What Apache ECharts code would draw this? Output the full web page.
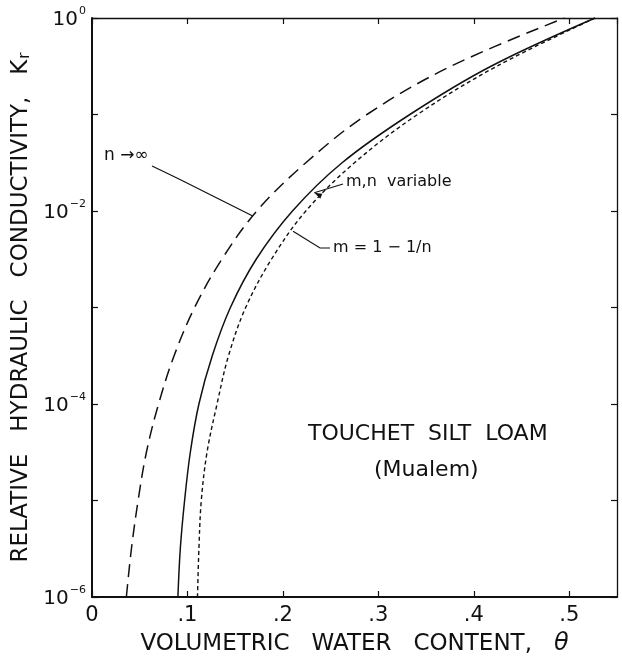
<!DOCTYPE html>
<html>
<head>
<meta charset="utf-8">
<script src="https://cdn.jsdelivr.net/npm/echarts@6/dist/echarts.min.js"></script>
<style>
html,body{margin:0;padding:0;background:#fff;}
#chart{width:622px;height:663px;}
</style>
</head>
<body>
<div id="chart"></div>
<script>
// ---- data (theta = volumetric water content, logKr = log10 of relative conductivity Kr) ----
const xTicks = [0, 0.1, 0.2, 0.3, 0.4, 0.5];
const yTickExponents = [-6, -4, -2, 0];
const logKr = [-6, -5.5, -5, -4.5, -4, -3.5, -3, -2.5, -2, -1.5, -1, -0.5, 0];

// n -> infinity (long dash)
const thetaInf = [0.036, 0.0413, 0.0483, 0.057, 0.0697, 0.086, 0.1075, 0.136, 0.1726, 0.224, 0.288, 0.376, 0.495];
// m, n variable (solid)
const thetaVar = [0.090, 0.0925, 0.097, 0.103, 0.112, 0.126, 0.145, 0.172, 0.210, 0.262, 0.333, 0.418, 0.527];
// m = 1 - 1/n (short dash)
const thetaMn  = [0.1105, 0.112, 0.1145, 0.1205, 0.131, 0.143, 0.161, 0.188, 0.224, 0.275, 0.341, 0.424, 0.527];

const FONT = 'DejaVu Sans';
const INK = '#111';

function pairs(xs, ys){ return xs.map((x,i)=>[x, ys[i]]); }
function interpTheta(xs, ys, ly){
  for (let i=0;i<ys.length-1;i++){
    if (ly>=ys[i] && ly<=ys[i+1]){ const t=(ly-ys[i])/(ys[i+1]-ys[i]); return xs[i]+t*(xs[i+1]-xs[i]); }
  }
  return xs[xs.length-1];
}

const chart = echarts.init(document.getElementById('chart'), null, {renderer:'canvas'});

const supRich = {
  b:{fontFamily:FONT, fontSize:20, color:INK, lineHeight:24, verticalAlign:'bottom'},
  s:{fontFamily:FONT, fontSize:11, color:INK, lineHeight:24, verticalAlign:'top', padding:[0,0,10,1]}
};

function axis(extra, width){
  return Object.assign({
    type:'value', splitLine:{show:false},
    axisLine:{show:true, onZero:false, lineStyle:{color:INK, width:width}},
    axisTick:{show:true, inside:true, length:6, lineStyle:{color:INK, width:1.2}}
  }, extra);
}

const option = {
  animation:false,
  backgroundColor:'#fff',
  grid:{left:92, right:5, top:18, bottom:66, containLabel:false},
  xAxis:[
    axis({
      position:'bottom', min:0, max:0.55, interval:0.1,
      axisLabel:{show:true, fontFamily:FONT, fontSize:21, color:INK, margin:8, showMaxLabel:false,
        formatter:(v)=>{ const k=xTicks.findIndex(t=>Math.abs(t-v)<1e-6); if(k<0) return ''; return v===0?'0':'.'+Math.round(v*10);} },
      name:'{t|VOLUMETRIC   WATER   CONTENT,   }{th|θ}', nameLocation:'middle', nameGap:35,
      nameTextStyle:{rich:{t:{fontFamily:FONT, fontSize:23, color:INK}, th:{fontFamily:FONT, fontSize:24, fontStyle:'italic', color:INK}}}
    }, 2),
    axis({position:'top', min:0, max:0.55, interval:0.1, axisLabel:{show:false}}, 1.3)
  ],
  yAxis:[
    axis({
      position:'left', min:-6, max:0, interval:1,
      axisLabel:{show:true, margin:6, rich:supRich,
        formatter:(v)=> yTickExponents.indexOf(Math.round(v))>=0 && Math.abs(v-Math.round(v))<1e-6 ? '{b|10}{s|'+(v===0?'0':String(v).replace('-','−'))+'}' : ''},
      name:'{t|RELATIVE   HYDRAULIC   CONDUCTIVITY,   K}{r|r}', nameLocation:'middle', nameGap:44, nameRotate:90,
      nameTextStyle:{rich:{t:{fontFamily:FONT, fontSize:23, color:INK, lineHeight:28, verticalAlign:'bottom'}, r:{fontFamily:FONT, fontSize:15, color:INK, lineHeight:28, verticalAlign:'bottom', padding:[0,0,0,1]}}}
    }, 2),
    axis({position:'right', min:-6, max:0, interval:1, axisLabel:{show:false}}, 1.3)
  ],
  series:[
    {name:'n→∞', type:'line', showSymbol:false, smooth:0.35, data:pairs(thetaInf, logKr),
     lineStyle:{color:INK, width:1.5, type:[13,7]}},
    {name:'m,n variable', type:'line', showSymbol:false, smooth:0.35, data:pairs(thetaVar, logKr),
     lineStyle:{color:INK, width:1.5, type:'solid'}},
    {name:'m=1-1/n', type:'line', showSymbol:false, smooth:0.35, data:pairs(thetaMn, logKr),
     lineStyle:{color:INK, width:1.4, type:[4,3]}}
  ]
};
chart.setOption(option);

// annotations anchored on curves
const pInf = chart.convertToPixel({gridIndex:0}, [interpTheta(thetaInf, logKr, -2.05), -2.05]);
const pVar = chart.convertToPixel({gridIndex:0}, [interpTheta(thetaVar, logKr, -1.8), -1.8]);
const pMn  = chart.convertToPixel({gridIndex:0}, [interpTheta(thetaMn, logKr, -2.2), -2.2]);

const txt = {fontFamily:FONT, fill:INK};
const ax = pVar[0]+2, ay = pVar[1]+1;
chart.setOption({
  graphic:[
    {type:'text', left:104, top:147, style:Object.assign({text:'n →∞', fontSize:17}, txt)},
    {type:'polyline', shape:{points:[[152,166],[185,182],[pInf[0]-1,pInf[1]]], smooth:0.4}, style:{stroke:INK, lineWidth:1.2, fill:null}},
    {type:'text', left:346, top:174, style:Object.assign({text:'m,n  variable', fontSize:16}, txt)},
    {type:'polyline', shape:{points:[[343,184],[ax,ay]]}, style:{stroke:INK, lineWidth:1.2, fill:null}},
    {type:'polygon', shape:{points:[[ax,ay],[ax+8,ay+1],[ax+6,ay+6]]}, style:{fill:INK}},
    {type:'text', left:333, top:240, style:Object.assign({text:'m = 1 − 1/n', fontSize:16}, txt)},
    {type:'polyline', shape:{points:[[pMn[0]+1,pMn[1]+1],[320,248],[330,248]]}, style:{stroke:INK, lineWidth:1.2, fill:null}},
    {type:'text', left:308, top:423, style:Object.assign({text:'TOUCHET  SILT  LOAM', fontSize:22}, txt)},
    {type:'text', left:374, top:459, style:Object.assign({text:'(Mualem)', fontSize:22}, txt)}
  ]
});
</script>
</body>
</html>
